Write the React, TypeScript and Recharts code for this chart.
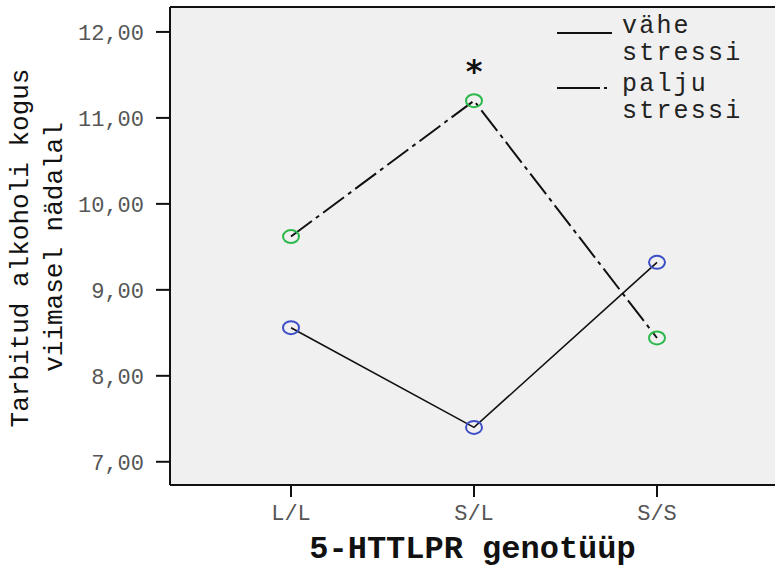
import React from 'react';
import { LineChart, Line, XAxis, YAxis, CartesianGrid, ReferenceLine, LabelList } from 'recharts';

// genotype categories on the x axis
const GENOTYPES = ['L/L', 'S/L', 'S/S'];
// mean values per group
const VAHE_STRESSI = [8.56, 7.40, 9.32];
const PALJU_STRESSI = [9.62, 11.20, 8.44];
// significance markers
const SIG = ['', '*', ''];
const Y_TICKS = [7, 8, 9, 10, 11, 12];
const Y_DOMAIN = [6.73, 12.29];

const MONO = '"Liberation Mono", "Courier New", monospace';
const BLUE = '#3d4fc6';
const GREEN = '#2cb84a';

const data = GENOTYPES.map((g, i) => ({
    genotype: g,
    vahe: VAHE_STRESSI[i],
    palju: PALJU_STRESSI[i],
    sig: SIG[i],
}));

const makeDot = (color: string) => (props: any) => {
    const { cx, cy, index } = props;
    if (cx == null || cy == null) return <g key={index} />;
    return <ellipse key={index} cx={cx} cy={cy} rx={8} ry={6.5} fill="none" stroke={color} strokeWidth={2} />;
};

const renderSig = (props: any) => {
    const { x, y, value, index } = props;
    if (!value) return null;
    return (
        <text key={index} x={x} y={y - 19} textAnchor="middle" fontFamily='"DejaVu Sans", sans-serif'
            fontWeight="bold" fontSize={32} fill="#111">
            {value}
        </text>
    );
};

const renderYLabel = () => (
    <g fill="#111" fontFamily={MONO} fontSize={26}>
        <text transform="translate(28,248) rotate(-90)" textAnchor="middle">Tarbitud alkoholi kogus</text>
        <text transform="translate(62,247) rotate(-90)" textAnchor="middle">viimasel nädalal</text>
    </g>
);

// legend drawn as an overlay inside the plot's top-right corner
const LegendBox = () => (
    <svg width={235} height={130} style={{ position: 'absolute', left: 540, top: 0, display: 'block' }}>
        <g fontFamily={MONO} fontSize={25} letterSpacing={2.2} fill="#222">
            <line x1={17} y1={33} x2={72} y2={33} stroke="#111" strokeWidth={2} />
            <text x={82} y={33}>vähe</text>
            <text x={82} y={60}>stressi</text>
            <line x1={17} y1={88} x2={67} y2={88} stroke="#111" strokeWidth={2} strokeDasharray="43 4 4 100" />
            <text x={82} y={91}>palju</text>
            <text x={82} y={118}>stressi</text>
        </g>
    </svg>
);

export default function App() {
    return (
        <div style={{ position: 'absolute', left: 0, top: 0, width: 775, height: 567, background: '#fff' }}>
            <LineChart width={775} height={567} data={data} margin={{ top: 7, right: 0, bottom: 0, left: 0 }}>
                <CartesianGrid fill="#f0f0f0" stroke="none" horizontal={false} vertical={false} />
                <XAxis
                    dataKey="genotype"
                    padding={{ left: 121, right: 118 }}
                    height={82}
                    axisLine={{ stroke: '#111', strokeWidth: 2 }}
                    tickLine={{ stroke: '#111', strokeWidth: 2 }}
                    tickSize={12}
                    tickMargin={7}
                    tick={{ fill: '#555', fontSize: 22, fontFamily: MONO }}
                    label={{
                        value: '5-HTTLPR genotüüp',
                        position: 'insideBottom',
                        offset: 9,
                        fill: '#111',
                        fontSize: 32,
                        fontWeight: 'bold',
                        fontFamily: MONO,
                    }}
                />
                <YAxis
                    type="number"
                    domain={Y_DOMAIN}
                    ticks={Y_TICKS}
                    allowDataOverflow
                    width={170}
                    axisLine={{ stroke: '#111', strokeWidth: 2 }}
                    tickLine={{ stroke: '#111', strokeWidth: 2 }}
                    tickSize={14}
                    tickMargin={12}
                    tick={{ fill: '#555', fontSize: 22, fontFamily: MONO }}
                    tickFormatter={(v: number) => v.toFixed(2).replace('.', ',')}
                    label={{ content: renderYLabel }}
                />
                <ReferenceLine y={Y_DOMAIN[1]} stroke="#111" strokeWidth={2} />
                <Line
                    dataKey="vahe"
                    name="vähe stressi"
                    stroke="#111"
                    strokeWidth={1.6}
                    dot={makeDot(BLUE)}
                    activeDot={false}
                    isAnimationActive={false}
                />
                <Line
                    dataKey="palju"
                    name="palju stressi"
                    stroke="#111"
                    strokeWidth={2}
                    strokeDasharray="26 5 4 5"
                    dot={makeDot(GREEN)}
                    activeDot={false}
                    isAnimationActive={false}
                >
                    <LabelList dataKey="sig" content={renderSig} />
                </Line>
            </LineChart>
            <LegendBox />
        </div>
    );
}
